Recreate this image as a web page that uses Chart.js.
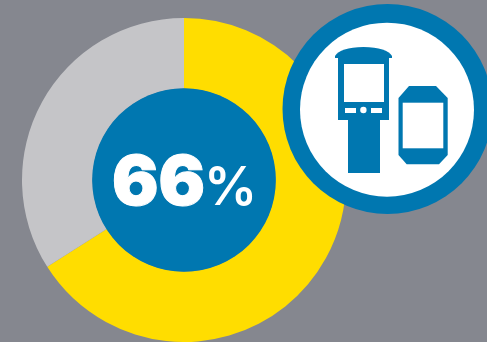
<!DOCTYPE html>
<html>
<head>
<meta charset="utf-8">
<style>
  html, body { margin: 0; padding: 0; background: #85878f; }
  #wrap { width: 487px; height: 342px; overflow: hidden; }
  canvas { display: block; }
</style>
<script src="https://cdn.jsdelivr.net/npm/chart.js@4"></script>
</head>
<body>
<div id="wrap"><canvas id="chart" width="487" height="342"></canvas></div>
<script>
const categories = ['Yes', 'No'];
const shareValues = [66, 34];
const sliceColors = ['#FFDD00', '#C5C5C8'];

const BLUE = '#0077B0';

function poly(ctx, pts) {
  ctx.beginPath();
  pts.forEach((p, i) => (i ? ctx.lineTo(p[0], p[1]) : ctx.moveTo(p[0], p[1])));
  ctx.closePath();
  ctx.fill();
}

// Kiosk and handheld terminal inside the white badge
function drawDevices(ctx) {
  ctx.fillStyle = BLUE;
  // kiosk roof
  ctx.beginPath();
  ctx.moveTo(335, 58);
  ctx.lineTo(335, 56);
  ctx.quadraticCurveTo(340, 47.5, 363.5, 47);
  ctx.quadraticCurveTo(387, 47.5, 392, 56);
  ctx.lineTo(392, 58);
  ctx.closePath();
  ctx.fill();
  // kiosk body and stem
  ctx.fillRect(338, 57, 51, 63);
  ctx.fillRect(348, 119, 32, 54);
  ctx.fillStyle = '#fff';
  ctx.fillRect(344, 64, 40, 38);
  ctx.fillRect(345, 108, 11, 5);
  ctx.fillRect(371, 108, 11, 5);
  ctx.beginPath();
  ctx.arc(363.4, 110, 3.2, 0, Math.PI * 2);
  ctx.fill();
  // handheld
  ctx.fillStyle = BLUE;
  poly(ctx, [[409, 86], [436, 86], [447.7, 98], [447.7, 155], [439, 164.3],
             [406.7, 164.3], [398.5, 155], [398.5, 98]]);
  ctx.fillStyle = '#fff';
  ctx.fillRect(402.7, 102.7, 40.6, 45.6);
}

const overlays = {
  id: 'overlays',
  afterDatasetsDraw(chart) {
    const { ctx } = chart;
    const arc = chart.getDatasetMeta(0).data[0];
    const cx = arc.x, cy = arc.y;
    ctx.save();
    // centre disc
    ctx.fillStyle = BLUE;
    ctx.beginPath();
    ctx.arc(cx, cy, arc.innerRadius + 0.3, 0, Math.PI * 2);
    ctx.fill();
    // centre figure: heavy digits with a smaller, lighter percent sign
    ctx.fillStyle = '#fff';
    ctx.strokeStyle = '#fff';
    ctx.lineJoin = 'round';
    ctx.textBaseline = 'alphabetic';
    ctx.textAlign = 'left';
    ctx.font = '900 69px Inter';
    ctx.lineWidth = 1;
    ctx.strokeText(String(shareValues[0]), 112, 205);
    ctx.fillText(String(shareValues[0]), 112, 205);
    ctx.font = '600 53px Inter';
    ctx.fillText('%', 204, 205);
    // badge
    ctx.fillStyle = BLUE;
    ctx.beginPath();
    ctx.arc(387.5, 109, 105, 0, Math.PI * 2);
    ctx.fill();
    ctx.fillStyle = '#fff';
    ctx.beginPath();
    ctx.arc(387, 109.7, 87, 0, Math.PI * 2);
    ctx.fill();
    drawDevices(ctx);
    ctx.restore();
  }
};

new Chart(document.getElementById('chart'), {
  type: 'doughnut',
  data: {
    labels: categories,
    datasets: [{ data: shareValues, backgroundColor: sliceColors, borderWidth: 0 }]
  },
  options: {
    responsive: false,
    animation: false,
    cutout: '56.5%',
    layout: { padding: { left: 22, right: 141, top: 18, bottom: 0 } },
    plugins: { legend: { display: false }, tooltip: { enabled: false } }
  },
  plugins: [overlays]
});
</script>
</body>
</html>
